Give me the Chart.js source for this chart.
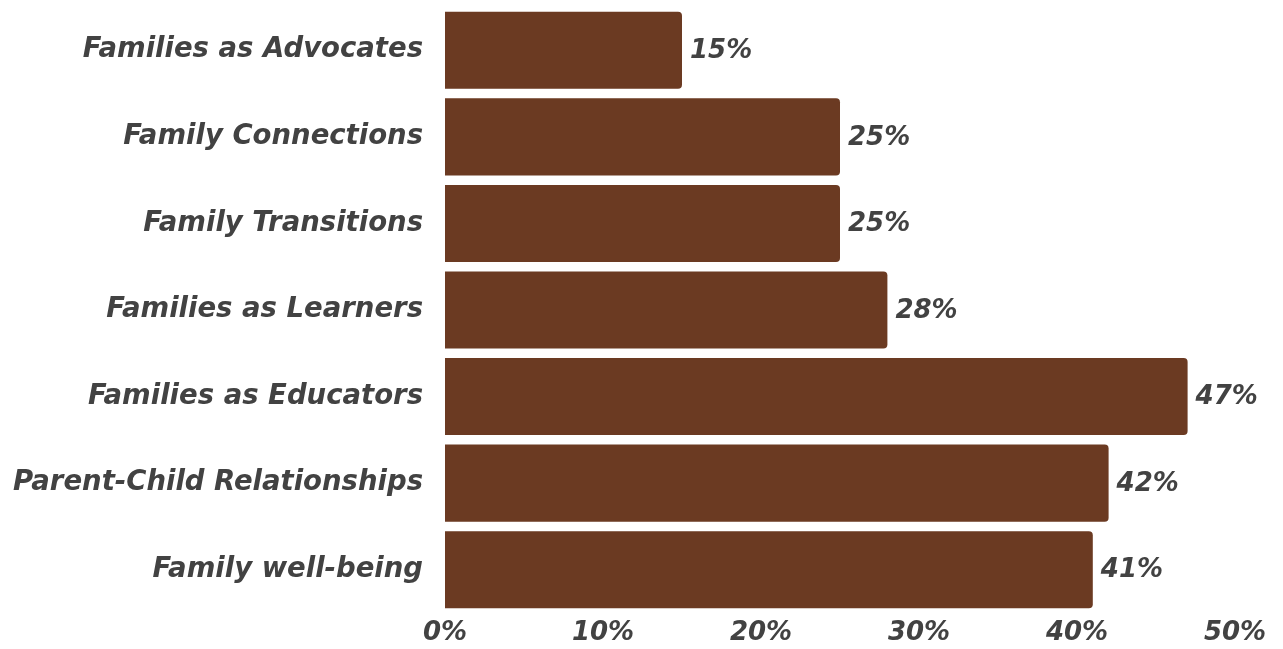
<!DOCTYPE html>
<html>
<head>
<meta charset="utf-8">
<script src="https://cdn.jsdelivr.net/npm/chart.js@4"></script>
<style>
  html, body { margin: 0; padding: 0; background: #fff; }
  #wrap { width: 1283px; height: 649px; }
</style>
</head>
<body>
<div id="wrap"><canvas id="barChart"></canvas></div>
<script>
// Share of families per topic
const categories = [
    'Families as Advocates',
    'Family Connections',
    'Family Transitions',
    'Families as Learners',
    'Families as Educators',
    'Parent-Child Relationships',
    'Family well-being'
];
const percentValues = [15, 25, 25, 28, 47, 42, 41];
const tickValues = [0, 10, 20, 30, 40, 50];

const BAR_COLOR = '#6b3a22';
const TEXT_COLOR = '#424242';
const FONT = "'DejaVu Sans', sans-serif";

// value labels at the end of each bar
const valueLabels = {
    id: 'valueLabels',
    afterDatasetsDraw(chart) {
        const ctx = chart.ctx;
        const meta = chart.getDatasetMeta(0);
        ctx.save();
        ctx.font = `italic bold 26px ${FONT}`;
        ctx.fillStyle = TEXT_COLOR;
        ctx.textAlign = 'left';
        ctx.textBaseline = 'middle';
        meta.data.forEach((bar, i) => {
            ctx.fillText(percentValues[i] + '%', bar.x + 8, bar.y + 1);
        });
        ctx.restore();
    }
};

const ctx = document.getElementById('barChart').getContext('2d');
new Chart(ctx, {
    type: 'bar',
    data: {
        labels: categories,
        datasets: [{
            data: percentValues,
            backgroundColor: BAR_COLOR,
            borderRadius: 4,
            barPercentage: 0.89,
            categoryPercentage: 1.0
        }]
    },
    options: {
        indexAxis: 'y',
        responsive: true,
        maintainAspectRatio: false,
        animation: false,
        layout: { padding: { top: 7, right: 48, left: 0, bottom: 0 } },
        plugins: {
            legend: { display: false },
            tooltip: { enabled: false }
        },
        scales: {
            x: {
                min: 0,
                max: 50,
                grid: { display: false, drawTicks: false },
                border: { display: false },
                afterBuildTicks: (axis) => {
                    axis.ticks = tickValues.map(v => ({ value: v }));
                },
                afterFit: (axis) => {
                    axis.height = 36;
                },
                ticks: {
                    padding: 5,
                    maxRotation: 0,
                    color: TEXT_COLOR,
                    font: { family: FONT, size: 26, weight: 'bold', style: 'italic' },
                    callback: (v) => v + '%'
                }
            },
            y: {
                grid: { display: false, drawTicks: false },
                border: { display: false },
                // fixed label column; tick padding would otherwise push the plot down
                afterFit: (axis) => {
                    axis.width = 445;
                    axis.paddingTop = 0;
                    axis.paddingBottom = 0;
                },
                ticks: {
                    padding: 22,
                    color: TEXT_COLOR,
                    font: { family: FONT, size: 27.5, weight: 'bold', style: 'italic' }
                }
            }
        }
    },
    plugins: [valueLabels]
});
</script>
</body>
</html>
